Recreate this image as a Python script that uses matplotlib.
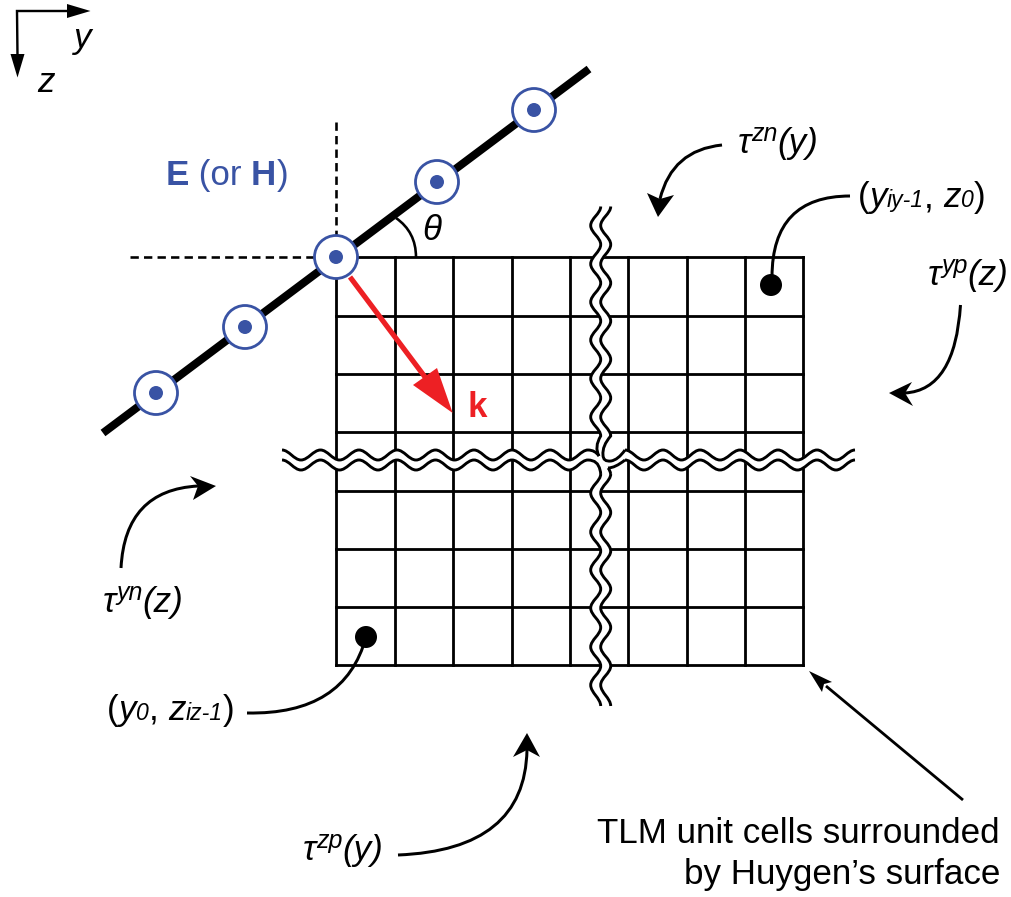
import matplotlib
matplotlib.use('Agg')
import matplotlib.pyplot as plt
from matplotlib.patches import Circle, PathPatch
from matplotlib.path import Path

plt.rcParams['font.family'] = ['Liberation Sans', 'DejaVu Sans']

BLUE = '#3953a4'
RED = '#ed2024'
PX = 0.72  # one pixel in points at dpi 100

# grid of unit cells
GRID_X = [336.5, 395, 453.5, 512, 570, 628.5, 687, 745.5, 803.5]
GRID_Y = [257, 316, 374.5, 432.5, 491, 549, 607, 665.5]

# break lines: positions of the crests and troughs along each line
BREAK_H_X = [282, 301, 320.5, 339.5, 359, 378, 397, 416, 435.5, 454.5, 474, 493, 512, 531, 550, 569,
             588, 606.5, 625, 644, 663, 681.5, 700, 720, 740, 759, 778, 797.5, 817, 836, 855]
BREAK_H_Y = [455, 465]
BREAK_V_Y = [206.5, 225.5, 244.5, 264, 283, 302, 321, 340, 359.5, 378.5, 398, 417, 436, 455, 474,
             493, 512.5, 532, 551, 570, 589, 608, 627.5, 647, 666, 685, 706]
BREAK_V_X = [595.7, 605.7]

# plane wave front and its field markers
FRONT_X = [103, 589]
FRONT_Y = [433, 69]
MARK_X = [156, 245, 336, 437, 534]
MARK_Y = [393, 327, 257, 182, 110]

# reference points
DOT_X = [771, 366]
DOT_Y = [285, 637]

# curved leaders: start, control, end
CURVES = [
    ((722, 145), (672, 150), (660, 199)),
    ((960.5, 305), (955, 390), (905, 393)),
    ((121, 568), (125, 490), (198, 486)),
    ((398, 855), (525, 850), (527, 750)),
    ((850, 196), (772, 196), (772, 277)),
    ((247, 713), (345, 715), (366, 637)),
]
# arrow heads: tip, barb, notch, barb
HEADS = [
    ((658, 217), (647, 193), (660, 199), (674, 195)),
    ((889, 393), (912, 382), (905, 393), (913, 406)),
    ((216, 486), (190, 476), (198, 486), (193, 500)),
    ((527, 733), (513, 757), (527, 750), (540, 757)),
    ((809, 671), (822, 692), (824, 684), (832, 682)),
]

fig = plt.figure(figsize=(10.12, 8.97), dpi=100)
ax = fig.add_axes([0, 0, 1, 1])
ax.set_xlim(0, 1012)
ax.set_ylim(897, 0)
ax.axis('off')
renderer = fig.canvas.get_renderer()


def wave(pos, level, first, last, horizontal=True, amp=5):
    # vertices of a smooth curve through alternating extremes, first..last
    verts = []
    codes = []
    for i in range(first, last + 1):
        side = amp if i % 2 == 0 else -amp
        p = pos[i]
        if i == first:
            verts.append((p, level - side) if horizontal else (level + side, p))
            codes.append(Path.MOVETO)
        else:
            d = (p - pos[i - 1]) * 0.37
            if horizontal:
                verts += [(pos[i - 1] + d, level + side), (p - d, level - side), (p, level - side)]
            else:
                verts += [(level - side, pos[i - 1] + d), (level + side, p - d), (level + side, p)]
            codes += [Path.CURVE4] * 3
    return verts, codes


def stroke(piece, extra=(), color='black', lw=2.9):
    # extra points follow the piece as quadratic curve segments
    verts = list(piece[0]) + list(extra)
    codes = list(piece[1]) + [Path.CURVE3] * len(extra)
    ax.add_patch(PathPatch(Path(verts, codes), fc='none', ec=color, lw=lw * PX, capstyle='butt', zorder=3))


def runs(x, y, parts, color='black'):
    # text pieces on one baseline: (string, size px, style, raise px, weight)
    for s, size, style, up, weight in parts:
        t = ax.text(x, y - up, s, fontsize=size * PX, style=style, weight=weight,
                    color=color, ha='left', va='baseline', zorder=10)
        x += t.get_window_extent(renderer).width


for gx in GRID_X:
    ax.plot([gx, gx], [GRID_Y[0], GRID_Y[-1]], color='black', lw=2.8 * PX,
            solid_capstyle='projecting', zorder=1)
for gy in GRID_Y:
    ax.plot([GRID_X[0], GRID_X[-1]], [gy, gy], color='black', lw=2.8 * PX,
            solid_capstyle='projecting', zorder=1)

# break lines, white band first
nh = len(BREAK_H_X) - 1
nv = len(BREAK_V_Y) - 1
mid_h = sum(BREAK_H_Y) / 2
mid_v = sum(BREAK_V_X) / 2
for first, last in [(0, 16), (18, nh)]:
    ax.add_patch(PathPatch(Path(*wave(BREAK_H_X, mid_h, first, last)), fc='none', ec='white',
                           lw=10 * PX, capstyle='butt', zorder=2))
for first, last in [(0, 12), (14, nv)]:
    ax.add_patch(PathPatch(Path(*wave(BREAK_V_Y, mid_v, first, last, False)), fc='none', ec='white',
                           lw=10 * PX, capstyle='butt', zorder=2))
ax.fill([575, 625, 625, 575], [440, 440, 480, 480], color='white', lw=0, zorder=2)

top, bottom = BREAK_H_Y
left, right = BREAK_V_X
# the four corners where the lines turn into each other
stroke(wave(BREAK_H_X, top, 0, 16), [(595, 450), (599, 456)])
stroke(wave(BREAK_V_Y, left, 0, 12, False), [(594, 447), (599, 456)])
stroke(wave(BREAK_V_Y, right, 0, 12, False), [(602, 446), (603, 455), (603, 462), (611, 461), (618, 460), (625, 450)])
stroke(wave(BREAK_H_X, top, 18, nh))
stroke(wave(BREAK_H_X, bottom, 0, 16), [(598, 460), (600, 470), (600.7, 472), (600.7, 474)])
stroke(wave(BREAK_V_Y, left, 14, nv, False))
stroke(([(608, 468)], [Path.MOVETO]), [(610, 470), (610.7, 474)])
stroke(wave(BREAK_V_Y, right, 14, nv, False))
stroke(([(608, 468)], [Path.MOVETO]), [(615, 468), (625, 460)])
stroke(wave(BREAK_H_X, bottom, 18, nh))

# dashed guides
ax.plot([130, 314], [257, 257], color='black', lw=2.6 * PX, dashes=(3.2, 2.0), zorder=2)
ax.plot([336.5, 336.5], [122, 236], color='black', lw=2.6 * PX, dashes=(3.2, 2.0), zorder=2)

# angle arc
ax.add_patch(PathPatch(Path([(396, 218), (416, 232), (416, 257)], [Path.MOVETO, Path.CURVE3, Path.CURVE3]),
                       fc='none', ec='black', lw=2.6 * PX, zorder=3))

# incident wave vector
ax.plot([350, 440], [277, 397], color=RED, lw=5.2 * PX, solid_capstyle='butt', zorder=4)
ax.fill([452.7, 437, 413], [413, 368, 385], color=RED, lw=0, zorder=4)

# wave front
ax.plot(FRONT_X, FRONT_Y, color='black', lw=8 * PX, solid_capstyle='butt', zorder=5)
for mx, my in zip(MARK_X, MARK_Y):
    ax.add_patch(Circle((mx, my), 21.5, fc='white', ec=BLUE, lw=2.8 * PX, zorder=6))
    ax.add_patch(Circle((mx, my), 7, fc=BLUE, ec='none', zorder=7))

# reference points and leaders
for dx, dy in zip(DOT_X, DOT_Y):
    ax.add_patch(Circle((dx, dy), 11, fc='black', ec='none', zorder=6))
for a, b, c in CURVES:
    ax.add_patch(PathPatch(Path([a, b, c], [Path.MOVETO, Path.CURVE3, Path.CURVE3]),
                           fc='none', ec='black', lw=3 * PX, capstyle='butt', zorder=6))
for head in HEADS:
    ax.fill([p[0] for p in head], [p[1] for p in head], color='black', lw=0, zorder=7)
ax.plot([963, 826], [800, 686], color='black', lw=2.8 * PX, solid_capstyle='butt', zorder=6)

# y, z axes
ax.plot([70, 17, 17.5], [11, 11, 56], color='black', lw=2.4 * PX, solid_joinstyle='miter', zorder=6)
ax.fill([90.5, 67, 67], [11, 4, 18], color='black', lw=0, zorder=7)
ax.fill([17.5, 10.5, 24.5], [77.5, 54, 54], color='black', lw=0, zorder=7)

# labels
BIG = 35
SUP = 25
SUB = 23
runs(74, 48, [('y', BIG, 'italic', 0, 'normal')])
runs(37, 92, [('z', BIG, 'italic', 0, 'normal')])
runs(165.5, 185, [('E', BIG, 'normal', 0, 'bold'), (' (or ', BIG, 'normal', 0, 'normal'),
                  ('H', BIG, 'normal', 0, 'bold'), (')', BIG, 'normal', 0, 'normal')], color=BLUE)
runs(422, 240, [('θ', BIG, 'italic', 0, 'normal')])
runs(468, 417, [('k', BIG, 'normal', 0, 'bold')], color=RED)

runs(738, 153, [('τ', BIG, 'italic', 0, 'normal'), ('zn', SUP, 'italic', 12, 'normal'), ('(y)', BIG, 'italic', 0, 'normal')])
runs(928, 285, [('τ', BIG, 'italic', 0, 'normal'), ('yp', SUP, 'italic', 12, 'normal'), ('(z)', BIG, 'italic', 0, 'normal')])
runs(103, 612, [('τ', BIG, 'italic', 0, 'normal'), ('yn', SUP, 'italic', 12, 'normal'), ('(z)', BIG, 'italic', 0, 'normal')])
runs(303, 860, [('τ', BIG, 'italic', 0, 'normal'), ('zp', SUP, 'italic', 12, 'normal'), ('(y)', BIG, 'italic', 0, 'normal')])

runs(858, 207, [('(', BIG, 'normal', 0, 'normal'), ('y', BIG, 'italic', 0, 'normal'), ('iy-1', SUB, 'italic', 0, 'normal'),
                (', ', BIG, 'normal', 0, 'normal'), ('z', BIG, 'italic', 0, 'normal'), ('0', SUB, 'italic', 0, 'normal'),
                (')', BIG, 'normal', 0, 'normal')])
runs(107, 720, [('(', BIG, 'normal', 0, 'normal'), ('y', BIG, 'italic', 0, 'normal'), ('0', SUB, 'italic', 0, 'normal'),
                (', ', BIG, 'normal', 0, 'normal'), ('z', BIG, 'italic', 0, 'normal'), ('iz-1', SUB, 'italic', 0, 'normal'),
                (')', BIG, 'normal', 0, 'normal')])

ax.text(1000, 843, 'TLM unit cells surrounded', fontsize=BIG * PX, ha='right', va='baseline', zorder=10)
ax.text(1000, 884, 'by Huygen’s surface', fontsize=BIG * PX, ha='right', va='baseline', zorder=10)

fig.savefig('out.png', dpi=100)
plt.close()
